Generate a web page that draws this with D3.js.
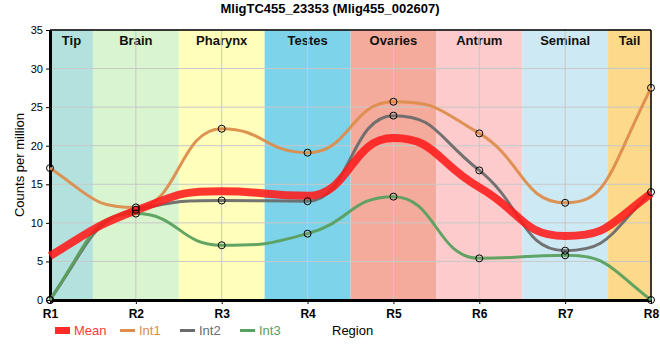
<!DOCTYPE html>
<html><head><meta charset="utf-8">
<script src="https://cdn.jsdelivr.net/npm/d3@7"></script>
<style>body{margin:0;background:#fff;font-family:Arial,"Liberation Sans",sans-serif}</style>
</head><body><svg id="c" width="660" height="360"></svg>
<script>
const title = "MligTC455_23353 (Mlig455_002607)";
const regions = ["R1","R2","R3","R4","R5","R6","R7","R8"];
const bandNames = ["Tip","Brain","Pharynx","Testes","Ovaries","Antrum","Seminal","Tail"];
const bandColors = ["#b3e2de","#d8f5cf","#ffffbb","#7dd3ea","#f4ab9c","#fdcbcc","#cdeaf4","#fcd98b"];
const yTicks = [0,5,10,15,20,25,30,35];
const int1 = [17.1, 12.0, 22.2, 19.1, 25.7, 21.6, 12.6, 27.5];
const int2 = [0, 11.7, 12.9, 12.8, 23.9, 16.8, 6.4, 14.0];
const int3 = [0, 11.2, 7.1, 8.6, 13.4, 5.4, 5.8, 0];
const meanVals = [5.7, 11.6, 14.1, 13.5, 21.0, 14.6, 8.3, 13.8];

// monotone-X style curve with longer bezier handles (flatter near points)
function makeCurve(frac){
  function sign(x){return x<0?-1:1;}
  function slope3(that,x2,y2){
    const h0=that._x1-that._x0, h1=x2-that._x1,
      s0=(that._y1-that._y0)/(h0||h1<0&&-0), s1=(y2-that._y1)/(h1||h0<0&&-0),
      p=(s0*h1+s1*h0)/(h0+h1);
    return (sign(s0)+sign(s1))*Math.min(Math.abs(s0),Math.abs(s1),0.5*Math.abs(p))||0;
  }
  function slope2(that,t){const h=that._x1-that._x0; return h?(3*(that._y1-that._y0)/h-t)/2:t;}
  function pt(that,t0,t1){
    const x0=that._x0,y0=that._y0,x1=that._x1,y1=that._y1,dx=(x1-x0)*frac;
    that._context.bezierCurveTo(x0+dx,y0+dx*t0,x1-dx,y1-dx*t1,x1,y1);
  }
  function C(context){this._context=context;}
  C.prototype={
    areaStart(){this._line=0;}, areaEnd(){this._line=NaN;},
    lineStart(){this._x0=this._x1=this._y0=this._y1=this._t0=NaN;this._point=0;},
    lineEnd(){
      switch(this._point){case 2:this._context.lineTo(this._x1,this._y1);break;case 3:pt(this,this._t0,slope2(this,this._t0));break;}
      if(this._line||(this._line!==0&&this._point===1))this._context.closePath();
      this._line=1-this._line;
    },
    point(x,y){
      let t1=NaN; x=+x;y=+y;
      if(x===this._x1&&y===this._y1)return;
      switch(this._point){
        case 0:this._point=1;this._line?this._context.lineTo(x,y):this._context.moveTo(x,y);break;
        case 1:this._point=2;break;
        case 2:this._point=3;pt(this,slope2(this,t1=slope3(this,x,y)),t1);break;
        default:pt(this,this._t0,t1=slope3(this,x,y));break;
      }
      this._x0=this._x1;this._x1=x;this._y0=this._y1;this._y1=y;this._t0=t1;
    }
  };
  return ctx=>new C(ctx);
}

const svg = d3.select("#c");
const L=50, R=651, T=30, B=300;
const x = d3.scalePoint().domain(regions).range([L,R]);
const y = d3.scaleLinear().domain([0,35]).range([B,T]);
const step = x.step();

const g = svg.append("g");
regions.forEach((r,i)=>{
  const x0 = Math.max(L, x(r)-step/2), x1 = Math.min(R, x(r)+step/2);
  g.append("rect").attr("x",x0).attr("y",T).attr("width",x1-x0).attr("height",B-T).attr("fill",bandColors[i]);
  g.append("text").attr("x",(x0+x1)/2).attr("y",T+15).attr("text-anchor","middle")
   .attr("font-size",13).attr("font-weight","bold").attr("fill","#111").text(bandNames[i]);
});
svg.append("g").selectAll("line").data(yTicks).join("line")
  .attr("x1",L).attr("x2",R).attr("y1",d=>y(d)).attr("y2",d=>y(d)).attr("stroke","#c8c8c8").attr("stroke-width",1);
svg.append("g").selectAll("line").data(regions).join("line")
  .attr("x1",d=>x(d)).attr("x2",d=>x(d)).attr("y1",T).attr("y2",B).attr("stroke","#c8c8c8").attr("stroke-width",1);

const ya = svg.append("g").attr("transform",`translate(${L},0)`).call(d3.axisLeft(y).tickValues(yTicks).tickSize(4).tickSizeOuter(0));
ya.selectAll("text").attr("font-size",11).attr("font-family","Arial,'Liberation Sans',sans-serif").attr("fill","#000");
ya.select(".domain").attr("stroke-width",3);
const xa = svg.append("g").attr("transform",`translate(0,${B})`).call(d3.axisBottom(x).tickSize(4).tickSizeOuter(0));
xa.selectAll("text").attr("font-size",12).attr("font-weight","bold").attr("font-family","Arial,'Liberation Sans',sans-serif").attr("fill","#000").attr("dy","0.9em");
xa.select(".domain").attr("stroke-width",3);
svg.append("line").attr("x1",L).attr("x2",R).attr("y1",T).attr("y2",T).attr("stroke","#000").attr("stroke-width",1.5);
svg.append("line").attr("x1",R).attr("x2",R).attr("y1",T).attr("y2",B).attr("stroke","#000").attr("stroke-width",1.5);

const line = d3.line().x((d,i)=>x(regions[i])).y(d=>y(d)).curve(makeCurve(0.5));
const series = [
  {v:int1, c:"#dd8d4c", w:3},
  {v:int2, c:"#6b6b6b", w:3},
  {v:int3, c:"#5aa05e", w:3},
];
series.forEach(s=>{
  svg.append("path").attr("d",line(s.v)).attr("fill","none").attr("stroke",s.c).attr("stroke-width",s.w).attr("opacity",0.95);
});
svg.append("path").attr("d",line(meanVals)).attr("fill","none").attr("stroke","#ff1a1a").attr("stroke-width",8).attr("opacity",0.88);
series.forEach(s=>{
  svg.append("g").selectAll("circle").data(s.v).join("circle")
    .attr("cx",(d,i)=>x(regions[i])).attr("cy",d=>y(d)).attr("r",3.5)
    .attr("fill","none").attr("stroke","#000").attr("stroke-width",1);
});

svg.append("text").attr("x",330).attr("y",13).attr("text-anchor","middle").attr("font-size",13).attr("font-weight","bold").text(title);
svg.append("text").attr("transform","translate(24,165) rotate(-90)").attr("text-anchor","middle").attr("font-size",13).text("Counts per million");

const lg = svg.append("g").attr("font-size",13);
lg.append("rect").attr("x",55).attr("y",327).attr("width",15).attr("height",7).attr("fill","#ff2a2a");
lg.append("text").attr("x",74).attr("y",335).attr("fill","#ff3a3a").text("Mean");
const legItems = [["Int1","#dd8d4c",120],["Int2","#6b6b6b",180],["Int3","#5aa05e",240]];
legItems.forEach(([t,c,lx])=>{
  lg.append("line").attr("x1",lx).attr("x2",lx+15).attr("y1",330.5).attr("y2",330.5).attr("stroke",c).attr("stroke-width",3);
  lg.append("text").attr("x",lx+19).attr("y",335).attr("fill",c).text(t);
});
lg.append("text").attr("x",332).attr("y",335).attr("fill","#000").text("Region");
</script></body></html>
